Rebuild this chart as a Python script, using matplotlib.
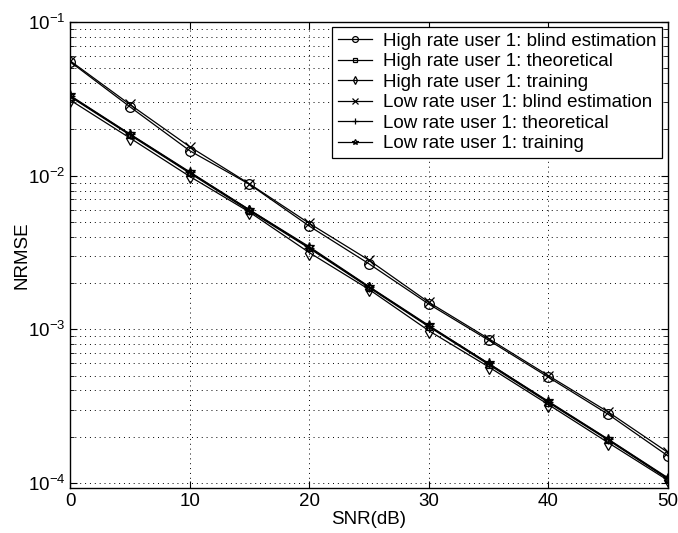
import matplotlib
matplotlib.use("Agg")
import matplotlib.pyplot as plt
from matplotlib.ticker import LogLocator, NullFormatter

plt.rcParams["font.family"] = ["Liberation Sans", "DejaVu Sans"]
plt.rcParams["mathtext.fontset"] = "custom"
plt.rcParams["mathtext.rm"] = "Liberation Sans"

snr = [0, 5, 10, 15, 20, 25, 30, 35, 40, 45, 50]
high_blind = [0.0552, 0.0281, 0.01455, 0.00879, 0.0047, 0.00267, 0.00146, 0.00085, 0.000488, 0.00028, 0.000150]
high_theo = [0.0327, 0.0184, 0.0104, 0.0059, 0.00337, 0.00187, 0.00104, 0.00059, 0.000334, 0.000190, 0.000106]
high_train = [0.0311, 0.0176, 0.0099, 0.0058, 0.00316, 0.00182, 0.00098, 0.00057, 0.000324, 0.000183, 0.000104]
low_blind = [0.0560, 0.0291, 0.01545, 0.00885, 0.0049, 0.00282, 0.00150, 0.00087, 0.000500, 0.000290, 0.000158]
low_theo = [0.0330, 0.0186, 0.0105, 0.0060, 0.00340, 0.00189, 0.00105, 0.00060, 0.000337, 0.000192, 0.000107]
low_train = [0.0333, 0.0187, 0.0106, 0.0060, 0.00345, 0.00190, 0.00106, 0.00060, 0.000340, 0.000193, 0.000108]

series = [
    ("High rate user 1: blind estimation", high_blind, "o"),
    ("High rate user 1: theoretical", high_theo, "s"),
    ("High rate user 1: training", high_train, "d"),
    ("Low rate user 1: blind estimation", low_blind, "x"),
    ("Low rate user 1: theoretical", low_theo, "+"),
    ("Low rate user 1: training", low_train, "*"),
]

fig = plt.figure(figsize=(6.78, 5.33), dpi=100)
ax = fig.add_axes([70 / 678, 1 - 488 / 533, 598 / 678, 466 / 533])

for label, vals, mk in series:
    ax.plot(snr, vals, color="black", lw=0.9, marker=mk, ms=7 if mk != "s" else 5,
            mfc="none", mec="black", mew=0.9, label=label)

ax.set_yscale("log")
ax.set_xlim(0, 50)
ax.set_ylim(9.28e-5, 1e-1)
ax.set_xticks([0, 10, 20, 30, 40, 50])
ax.yaxis.set_major_locator(LogLocator(base=10, numticks=10))
ax.yaxis.set_minor_locator(LogLocator(base=10, subs=range(2, 10), numticks=20))
ax.yaxis.set_minor_formatter(NullFormatter())
ax.tick_params(direction="in", which="both", top=True, right=True, labelsize=13.5)
ax.tick_params(which="major", length=5)
ax.tick_params(which="minor", length=3)
dots = (0, (1, 4))
ax.grid(True, which="major", ls=dots, color="black", lw=0.7)
ax.grid(True, which="minor", axis="y", ls=dots, color="black", lw=0.7)
for s in ax.spines.values():
    s.set_linewidth(1.0)

ax.set_xlabel("SNR(dB)", fontsize=13.5, labelpad=1)
ax.set_ylabel("NRMSE", fontsize=13.5, labelpad=-2)

leg = ax.legend(loc="upper right", fontsize=13.5, frameon=True, fancybox=False,
                edgecolor="black", framealpha=1, handlelength=1.8, handletextpad=0.6,
                labelspacing=0.18, borderpad=0.3, borderaxespad=0, markerscale=0.6,
                bbox_to_anchor=(1 - 6 / 598, 1 - 5 / 466))
leg.get_frame().set_linewidth(0.9)

fig.savefig("out.png", dpi=100)
